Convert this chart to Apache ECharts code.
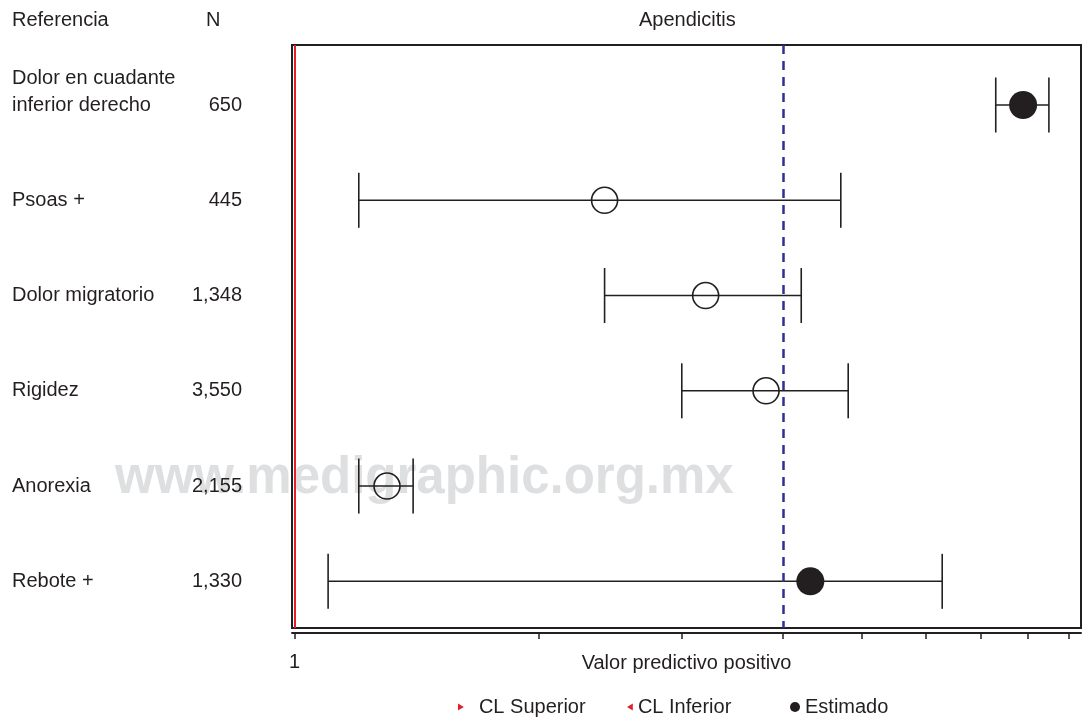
<!DOCTYPE html>
<html><head><meta charset="utf-8">
<script src="https://cdn.jsdelivr.net/npm/echarts@6/dist/echarts.min.js"></script>
<style>html,body{margin:0;padding:0;background:#fff}#c{width:1086px;height:717px}</style>
</head><body><div id="c"></div>
<script>
// ---- data ----
const categories = ['Dolor en cuadante\ninferior derecho', 'Psoas +', 'Dolor migratorio', 'Rigidez', 'Anorexia', 'Rebote +'];
const sampleN = ['650', '445', '1,348', '3,550', '2,155', '1,330'];
const estimate = [7.90, 2.41, 3.21, 3.81, 1.30, 4.32];
const lowerCL = [7.31, 1.20, 2.41, 3.00, 1.20, 1.10];
const upperCL = [8.50, 4.71, 4.21, 4.81, 1.40, 6.28];
const xTickValues = [1, 2, 3, 4, 5, 6, 7, 8, 9];
const xLabelValues = [1];
const nullLine = 1;
const refLine = 4;
const filledRows = ['Dolor en cuadante\ninferior derecho', 'Rebote +'];

// ---- styles ----
const INK = '#231f20';
const FONT = '"Liberation Sans", Arial, Helvetica, sans-serif';
const FS = 20;

const chart = echarts.init(document.getElementById('c'), null, {renderer: 'canvas'});
const rowIdx = categories.map((c, i) => i);

function rowLabel(v) {
  const i = Math.round(v);
  const lines = categories[i].split('\n');
  if (lines.length > 1) {
    return '{nm|' + lines[0] + '}\n{nm|' + lines[1] + '}{n|' + sampleN[i] + '}\n{nm| }';
  }
  return '{nm|' + lines[0] + '}{n|' + sampleN[i] + '}';
}

const option = {
  animation: false,
  backgroundColor: '#fff',
  textStyle: {fontFamily: FONT, color: INK},
  title: [
    {text: 'Referencia', left: 12, top: 10, padding: 0, textStyle: {fontSize: FS, fontWeight: 'normal', color: INK, fontFamily: FONT}},
    {text: 'N', left: 206, top: 10, padding: 0, textStyle: {fontSize: FS, fontWeight: 'normal', color: INK, fontFamily: FONT}},
    {text: 'Apendicitis', left: 639, top: 10, padding: 0, textStyle: {fontSize: FS, fontWeight: 'normal', color: INK, fontFamily: FONT}}
  ],
  graphic: [{
    type: 'text', left: 115, top: 453, z: -10, silent: true,
    style: {text: 'www.medigraphic.org.mx', font: 'bold 51px ' + FONT, fill: '#dedfe1'}
  }],
  legend: [
    {data: [{name: 'CL Superior', icon: 'path://M0,0L10,6L0,12Z', itemStyle: {color: '#e3202a'}}],
     left: 458, top: 697, padding: 0, itemWidth: 6, itemHeight: 7, selectedMode: false,
     textStyle: {fontSize: FS, color: INK, fontFamily: FONT, padding: [0, 0, 0, 10]}},
    {data: [{name: 'CL Inferior', icon: 'path://M10,0L0,6L10,12Z', itemStyle: {color: '#e3202a'}}],
     left: 627, top: 697, padding: 0, itemWidth: 6, itemHeight: 7, selectedMode: false,
     textStyle: {fontSize: FS, color: INK, fontFamily: FONT}},
    {data: [{name: 'Estimado', icon: 'circle', itemStyle: {color: INK}}],
     left: 790, top: 697, padding: 0, itemWidth: 10, itemHeight: 10, selectedMode: false,
     textStyle: {fontSize: FS, color: INK, fontFamily: FONT}}
  ],
  grid: {left: 292, right: 5, top: 45, bottom: 89, show: true, borderColor: INK, borderWidth: 2, backgroundColor: 'transparent'},
  xAxis: {
    type: 'log', logBase: 10, min: 0.9929, max: 9.31, offset: 5,
    splitLine: {show: false}, minorTick: {show: false},
    axisLine: {show: true, onZero: false, lineStyle: {color: INK, width: 2}},
    axisTick: {show: true, customValues: xTickValues, length: 6, lineStyle: {color: INK, width: 1.5}},
    axisLabel: {customValues: xLabelValues, margin: 19, fontSize: FS, color: INK, fontFamily: FONT,
      formatter: v => String(Math.round(v))},
    name: 'Valor predictivo positivo', nameLocation: 'middle', nameGap: 20, nameMoveOverlap: false,
    nameTextStyle: {fontSize: FS, color: INK, fontFamily: FONT}
  },
  yAxis: {
    type: 'value', inverse: true, min: -0.63, max: 5.49,
    splitLine: {show: false}, axisLine: {show: false}, axisTick: {show: false},
    axisLabel: {
      customValues: rowIdx, align: 'left', margin: 280, formatter: rowLabel,
      rich: {
        nm: {width: 170, fontSize: FS, lineHeight: 27, color: INK, fontFamily: FONT, align: 'left'},
        n: {width: 60, fontSize: FS, lineHeight: 27, color: INK, fontFamily: FONT, align: 'right'}
      }
    }
  },
  series: [
    {
      type: 'custom', name: 'IC', silent: true, z: 3,
      data: rowIdx.map(i => [lowerCL[i], upperCL[i], i]),
      encode: {x: [0, 1], y: 2},
      renderItem: (params, api) => {
        const a = api.coord([api.value(0), api.value(2)]);
        const b = api.coord([api.value(1), api.value(2)]);
        return {type: 'line', shape: {x1: a[0], y1: a[1], x2: b[0], y2: b[1]},
          style: {stroke: INK, lineWidth: 1.6}};
      }
    },
    {
      type: 'scatter', name: 'CL Inferior', silent: true, z: 3,
      symbol: 'rect', symbolSize: [1.6, 55], itemStyle: {color: INK, opacity: 1},
      data: rowIdx.map(i => [lowerCL[i], i])
    },
    {
      type: 'scatter', name: 'CL Superior', silent: true, z: 3,
      symbol: 'rect', symbolSize: [1.6, 55], itemStyle: {color: INK, opacity: 1},
      data: rowIdx.map(i => [upperCL[i], i])
    },
    {
      type: 'scatter', name: 'Estimado', silent: true, z: 4,
      symbol: 'circle', itemStyle: {color: INK, opacity: 1},
      data: rowIdx.map(i => {
        const filled = filledRows.indexOf(categories[i]) >= 0;
        return filled
          ? {value: [estimate[i], i], symbolSize: 28, itemStyle: {color: INK, opacity: 1}}
          : {value: [estimate[i], i], symbolSize: 26, itemStyle: {color: 'rgba(255,255,255,0)', borderColor: INK, borderWidth: 1.6, opacity: 1}};
      }),
      markLine: {
        silent: true, symbol: 'none', label: {show: false}, z: 5,
        data: [
          {xAxis: nullLine, lineStyle: {color: '#e3202a', width: 2, type: 'solid', opacity: 1}},
          {xAxis: refLine, lineStyle: {color: '#2e3192', width: 2.5, type: [9, 7], opacity: 1}}
        ]
      }
    }
  ]
};
chart.setOption(option);
</script>
</body></html>
